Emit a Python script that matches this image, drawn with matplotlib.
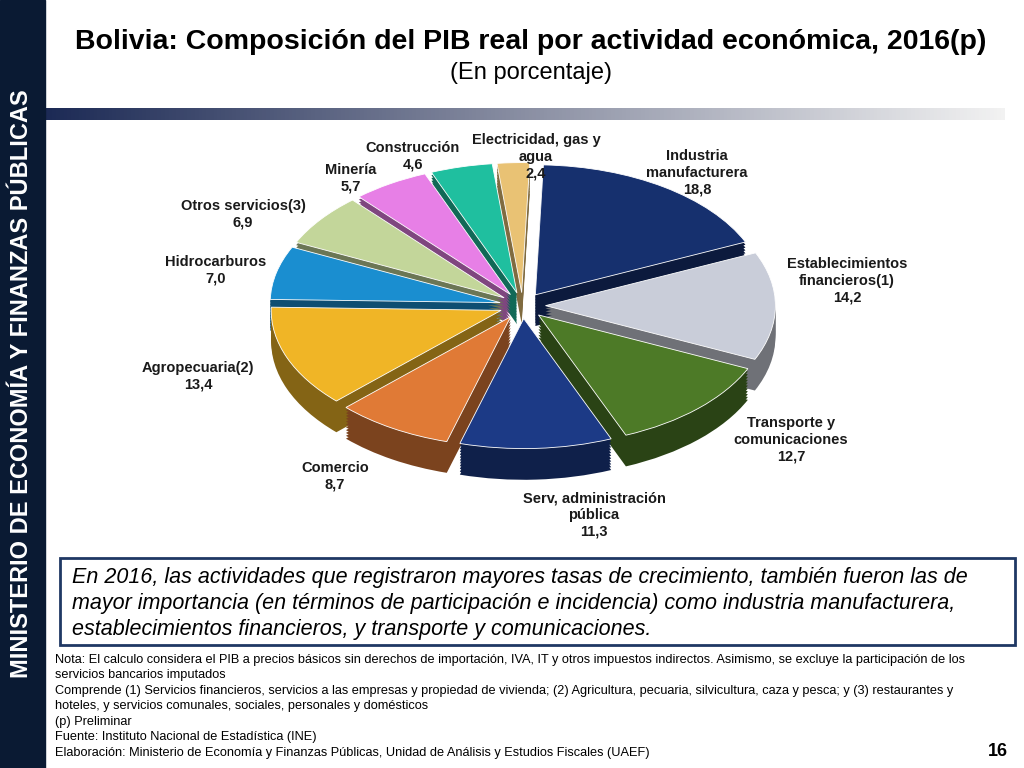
import matplotlib.pyplot as plt
import matplotlib.colors as mcolors
import numpy as np

sectors = ["Industria\nmanufacturera", "Establecimientos\nfinancieros(1)", "Transporte y\ncomunicaciones",
           "Serv. administración\npública", "Comercio", "Agropecuaria(2)", "Hidrocarburos",
           "Otros servicios(3)", "Minería", "Construcción", "Electricidad, gas y\nagua"]
shares = [18.8, 14.2, 12.7, 11.3, 8.7, 13.4, 7.0, 6.9, 5.7, 4.6, 2.4]
colors = ["#16306e", "#c9cdd9", "#4d7a27", "#1c3a86", "#e07a36", "#f0b526",
          "#1a8ed0", "#c3d69a", "#e77fe6", "#1fbf9f", "#e9c274"]
# label anchor positions in figure pixels (x, y from top)
label_pos = [(697, 173), (847, 281), (791, 440), (594, 515), (335, 476), (198, 376),
             (216, 270), (243, 214), (351, 178), (413, 156), (536, 157)]

plt.rcParams["font.family"] = "Liberation Sans"
fig = plt.figure(figsize=(10.24, 7.68), dpi=100)
W, H = 1024, 768

def fx(x): return x / W
def fy(y): return 1 - y / H

# left vertical band
fig.patches.append(plt.Rectangle((0, 0), fx(45), 1, transform=fig.transFigure, color="#0a1a33"))
fig.text(fx(22), 0.5, "MINISTERIO DE ECONOMÍA Y FINANZAS PÚBLICAS", rotation=90, color="white",
         fontsize=17, fontweight="bold", ha="center", va="center")
# header gradient line
grad = fig.add_axes([fx(45), fy(120), fx(960), fy(108) - fy(120)])
grad.imshow(np.linspace(0, 1, 256)[None, :], cmap=mcolors.LinearSegmentedColormap.from_list(
    "g", ["#1c2a55", "#8a8fa3", "#f2f2f2"]), aspect="auto")
grad.axis("off")

fig.text(fx(531), fy(42), "Bolivia: Composición del PIB real por actividad económica, 2016(p)",
         ha="center", va="center", fontsize=20.5, fontweight="bold")
fig.text(fx(531), fy(73), "(En porcentaje)", ha="center", va="center", fontsize=17)

# pie
ax = fig.add_axes([fx(265), fy(485), fx(515), fy(160) - fy(485)])
depth = 0.24
dark = [tuple(c * 0.55 for c in mcolors.to_rgb(col)) for col in colors]
for off in np.linspace(-depth, 0, 12)[:-1]:
    ax.pie(shares, colors=dark, startangle=88, counterclock=False, explode=[0.1] * len(shares),
           center=(0, off), wedgeprops=dict(linewidth=0))
ax.pie(shares, colors=colors, startangle=88, counterclock=False, explode=[0.1] * len(shares),
       wedgeprops=dict(linewidth=0.6, edgecolor="white"))
ax.set_aspect("auto")
ax.set_xlim(-1.12, 1.12)
ax.set_ylim(-1.38, 1.12)
ax.axis("off")

for name, val, (x, y) in zip(sectors, shares, label_pos):
    fig.text(fx(x), fy(y), f"{name}\n{val:.1f}".replace(".", ","), ha="center", va="center",
             fontsize=10.5, fontweight="bold", color="#1a1a1a", linespacing=1.25)

# text box
fig.patches.append(plt.Rectangle((fx(60), fy(645)), fx(955), fy(558) - fy(645), transform=fig.transFigure,
                                 fill=False, edgecolor="#1f3864", linewidth=2))
box_lines = ["En 2016, las actividades que registraron mayores tasas de crecimiento, también fueron las de",
             "mayor importancia (en términos de participación e incidencia) como industria manufacturera,",
             "establecimientos financieros, y transporte y comunicaciones."]
for i, line in enumerate(box_lines):
    fig.text(fx(72), fy(578 + i * 26), line, ha="left", va="center", fontsize=15.5, style="italic")

notes = ("Nota: El calculo considera el PIB a precios básicos sin derechos de importación, IVA, IT y otros impuestos indirectos. Asimismo, se excluye la participación de los\n"
         "servicios bancarios imputados\n"
         "Comprende (1) Servicios financieros, servicios a las empresas y propiedad de vivienda; (2) Agricultura, pecuaria, silvicultura, caza y pesca; y (3) restaurantes y\n"
         "hoteles, y servicios comunales, sociales, personales y domésticos\n"
         "(p) Preliminar\n"
         "Fuente: Instituto Nacional de Estadística (INE)\n"
         "Elaboración: Ministerio de Economía y Finanzas Públicas, Unidad de Análisis y Estudios Fiscales (UAEF)")
fig.text(fx(55), fy(654), notes, ha="left", va="top", fontsize=9.2, linespacing=1.38)
fig.text(fx(1008), fy(752), "16", ha="right", va="center", fontsize=13, fontweight="bold")

fig.savefig("out.png", dpi=100)
